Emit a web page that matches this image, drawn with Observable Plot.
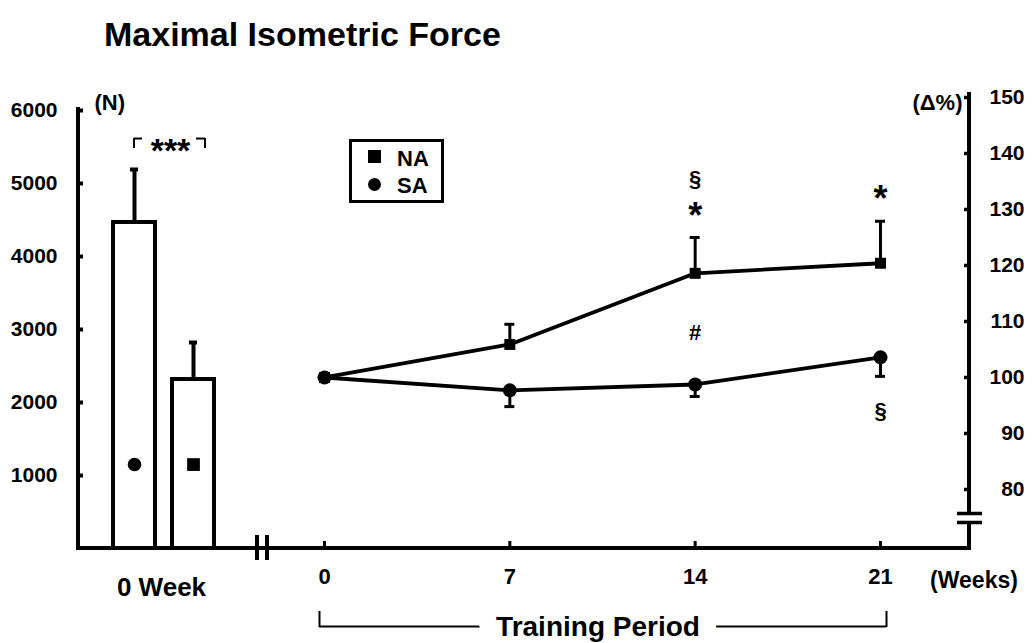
<!DOCTYPE html>
<html>
<head>
<meta charset="utf-8">
<script src="https://cdn.jsdelivr.net/npm/d3@7"></script>
<script src="https://cdn.jsdelivr.net/npm/@observablehq/plot@0.6"></script>
<style>
  html, body { margin: 0; padding: 0; background: #fff; }
  body { font-family: "Liberation Sans", Arial, Helvetica, sans-serif; color: #000; }
  #wrap { position: relative; width: 1032px; height: 643px; overflow: hidden; background: #fff; }
  #wrap svg { position: absolute; left: 0; top: 0; }
  #title { position: absolute; left: 104px; top: 17px; font-size: 34px; line-height: 34px; font-weight: bold; white-space: nowrap; z-index: 3; }
  #legend { position: absolute; left: 349px; top: 139px; width: 95px; height: 64px; box-sizing: border-box; border: 3px solid #000; background: #fff; z-index: 3; }
  .lg-sym { position: absolute; background: #000; }
  .lg-txt { position: absolute; font-size: 22px; line-height: 22px; font-weight: bold; white-space: nowrap; }
</style>
</head>
<body>
<div id="wrap">
  <div id="title">Maximal Isometric Force</div>
  <div id="legend"></div>
</div>
<script>
// ---------------- data ----------------
const barGroups = ["SA", "NA"];          // 0-week bars (left: SA, right: NA)
const barMeans = [4466, 2315];           // N
const barSDs = [726, 507];               // N
const barMarkerLevel = 1150;             // level of the group symbol drawn inside each bar (N)

const weeks = [0, 7, 14, 21];
const naPct = [100, 105.9, 118.6, 120.4];
const naSD  = [0, 3.6, 6.4, 7.5];
const saPct = [100, 97.7, 98.75, 103.6];
const saSD  = [0, 2.9, 2.15, 3.4];

const leftTicks = [1000, 2000, 3000, 4000, 5000, 6000];
const rightTicks = [80, 90, 100, 110, 120, 130, 140, 150];
const weekTicks = [0, 7, 14, 21];

const annoWeeks  = [14, 14, 21, 14, 21];
const annoLabels = ["§", "*", "*", "#", "§"];
const annoPct    = [135.5, 130.4, 133.4, 107.9, 94.1];

const legendLabels = ["NA", "SA"];

// axis extents
const leftMax = 6000;
const pctMin = 69.46, pctMax = 150, pctBreak = 74.8;
const sigTop = 5616, sigLeg = 5479, sigStars = 5562;

// ---------------- helpers ----------------
const font = "'Liberation Sans', Arial, Helvetica, sans-serif";
const baseStyle = {background: "transparent", fontFamily: font, color: "black", overflow: "visible"};
const plain = d => String(d);

function frameMark(draw) {
  return function(...args) {
    const dims = args.find(a => a && typeof a === "object" && "marginLeft" in a && "width" in a);
    const scales = args.find(a => a && typeof a === "object" && typeof a.y === "function");
    const g = d3.create("svg:g").attr("fill", "none").attr("stroke", "black");
    draw(g, dims, scales);
    return g.node();
  };
}

// ---------------- left panel: 0 week bars ----------------
const bars = barGroups.map((g, i) => ({group: g, mean: barMeans[i], sd: barSDs[i]}));

const left = Plot.plot({
  width: 1032, height: 643,
  marginLeft: 78, marginRight: 775, marginTop: 110, marginBottom: 95,
  style: baseStyle,
  x: {type: "band", domain: barGroups, range: [112, 215], paddingInner: 0.283, paddingOuter: 0, axis: null},
  y: {domain: [0, leftMax], axis: null},
  marks: [
    Plot.barY(bars, {x: "group", y: "mean", fill: "white", stroke: "black", strokeWidth: 4}),
    Plot.ruleX(bars, {x: "group", y1: "mean", y2: d => d.mean + d.sd, strokeWidth: 4}),
    Plot.tickY(bars, {x: "group", y: d => d.mean + d.sd, strokeWidth: 4, insetLeft: 17, insetRight: 17}),
    Plot.dot(bars.filter(d => d.group === "SA"), {x: "group", y: () => barMarkerLevel, symbol: "circle", r: 6.8, fill: "black"}),
    Plot.dot(bars.filter(d => d.group === "NA"), {x: "group", y: () => barMarkerLevel, symbol: "square", r: 7.2, fill: "black"}),
    // significance bracket
    Plot.tickY([barGroups[0]], {x: d => d, y: () => sigTop, insetLeft: 21, insetRight: 13, strokeWidth: 2}),
    Plot.tickY([barGroups[1]], {x: d => d, y: () => sigTop, insetLeft: 24, insetRight: 9, strokeWidth: 2}),
    Plot.ruleX([barGroups[0]], {x: d => d, y1: () => sigLeg, y2: () => sigTop, dx: -0.5, strokeWidth: 2}),
    Plot.ruleX([barGroups[1]], {x: d => d, y1: () => sigLeg, y2: () => sigTop, dx: 11.5, strokeWidth: 2}),
    Plot.text(["***"], {x: () => barGroups[0], y: () => sigStars, dx: 36, dy: 9, fontSize: 34, fontWeight: "bold", lineAnchor: "middle"}),
    Plot.axisY({ticks: leftTicks, tickFormat: plain, tickSize: -5, tickPadding: 26, strokeWidth: 4, fontSize: 21, fontWeight: "bold", label: null}),
    Plot.text(["(N)"], {frameAnchor: "top-left", textAnchor: "start", lineAnchor: "middle", dx: 16, dy: -8, fontSize: 22, fontWeight: "bold"}),
    Plot.text(["0 Week"], {frameAnchor: "bottom", textAnchor: "middle", lineAnchor: "middle", dx: -6.5, dy: 39.5, fontSize: 26, fontWeight: "bold"}),
    frameMark((g, d) => {
      const x0 = d.marginLeft, yb = d.height - d.marginBottom, xr = d.width - d.marginRight;
      g.append("path").attr("d", `M${x0},${d.marginTop - 3}V${yb}H${xr}`).attr("stroke-width", 4);
      g.append("path").attr("d", `M${xr},${yb - 13}V${yb + 12}`).attr("stroke-width", 4);
    })
  ]
});

// ---------------- right panel: training period lines ----------------
const na = weeks.map((w, i) => ({week: w, pct: naPct[i], sd: naSD[i]}));
const sa = weeks.map((w, i) => ({week: w, pct: saPct[i], sd: saSD[i]}));
const naErr = na.filter(d => d.sd > 0);
const saErr = sa.filter(d => d.sd > 0);
const annos = annoLabels.map((t, i) => ({week: annoWeeks[i], pct: annoPct[i], label: t}));
const stars = annos.filter(d => d.label === "*");
const others = annos.filter(d => d.label !== "*");

const right = Plot.plot({
  width: 1032, height: 643,
  marginLeft: 267, marginRight: 63, marginTop: 97, marginBottom: 95,
  style: baseStyle,
  x: {domain: [weeks[0], weeks[weeks.length - 1]], range: [324, 880], axis: null},
  y: {domain: [pctMin, pctMax], axis: null},
  marks: [
    frameMark((g, d, s) => {
      const x0 = d.marginLeft, yb = d.height - d.marginBottom, xr = d.width - d.marginRight;
      const yBr = s.y(pctBreak);
      g.append("path").attr("d", `M${x0},${yb - 13}V${yb + 12}`).attr("stroke-width", 4);
      g.append("path").attr("d", `M${x0 - 10},${yb}H${xr}V${yBr + 4.5}M${xr},${yBr - 4.5}V${d.marginTop - 5}`).attr("stroke-width", 4);
      g.append("path").attr("d", `M${xr - 12},${yBr - 4.5}H${xr + 13}M${xr - 12},${yBr + 4.5}H${xr + 13}`).attr("stroke-width", 3.5);
    }),
    Plot.ruleX(naErr, {x: "week", y1: "pct", y2: d => d.pct + d.sd, strokeWidth: 3}),
    Plot.ruleY(naErr, {x1: "week", x2: "week", y: d => d.pct + d.sd, insetLeft: -5, insetRight: -5, strokeWidth: 3}),
    Plot.ruleX(saErr, {x: "week", y1: "pct", y2: d => d.pct - d.sd, strokeWidth: 3}),
    Plot.ruleY(saErr, {x1: "week", x2: "week", y: d => d.pct - d.sd, insetLeft: -5, insetRight: -5, strokeWidth: 3}),
    Plot.line(na, {x: "week", y: "pct", stroke: "black", strokeWidth: 3.8}),
    Plot.line(sa, {x: "week", y: "pct", stroke: "black", strokeWidth: 3.8}),
    Plot.dot(na, {x: "week", y: "pct", symbol: "square", r: 6.2, fill: "black"}),
    Plot.dot(sa, {x: "week", y: "pct", symbol: "circle", r: 7, fill: "black"}),
    Plot.text(stars, {x: "week", y: "pct", text: "label", dy: 9, fontSize: 36, fontWeight: "bold", lineAnchor: "middle"}),
    Plot.text(others, {x: "week", y: "pct", text: "label", fontSize: 22, fontWeight: "bold", lineAnchor: "middle"}),
    Plot.axisX({ticks: weekTicks, tickFormat: plain, tickSize: -7, tickPadding: 27, strokeWidth: 3, fontSize: 22, fontWeight: "bold", label: null}),
    Plot.axisY({anchor: "right", ticks: rightTicks, tickFormat: plain, tickSize: -6, tickPadding: 61, textAnchor: "end", strokeWidth: 3.5, fontSize: 21, fontWeight: "bold", label: null}),
    Plot.text(["(Δ%)"], {frameAnchor: "top-right", textAnchor: "end", lineAnchor: "middle", dx: -7, dy: 5, fontSize: 22, fontWeight: "bold"}),
    Plot.text(["(Weeks)"], {frameAnchor: "bottom-right", textAnchor: "middle", lineAnchor: "middle", dx: 4.5, dy: 32, fontSize: 23, fontWeight: "bold"}),
    // training period bracket
    Plot.ruleY([pctMin], {x1: () => weeks[0], x2: () => weeks[weeks.length - 1], insetLeft: -5, insetRight: -6, dy: 78, strokeWidth: 2}),
    Plot.ruleX([weeks[0]], {x: d => d, y1: () => pctMin, y2: () => pctMin, insetTop: -15, insetBottom: -1, dx: -5, dy: 78, strokeWidth: 2}),
    Plot.ruleX([weeks[weeks.length - 1]], {x: d => d, y1: () => pctMin, y2: () => pctMin, insetTop: -15, insetBottom: -1, dx: 6, dy: 78, strokeWidth: 2}),
    Plot.text(["Training Period"], {x: () => (weeks[0] + weeks[weeks.length - 1]) / 2, y: () => pctMin, dx: -4.5, dy: 79, lineAnchor: "middle", fontSize: 28, fontWeight: "bold", stroke: "white", strokeWidth: 36, paintOrder: "stroke", fill: "black"})
  ]
});

const wrap = document.getElementById("wrap");
wrap.appendChild(left);
wrap.appendChild(right);

// ---------------- legend ----------------
const legend = document.getElementById("legend");
legendLabels.forEach((lab, i) => {
  const sym = document.createElement("div");
  sym.className = "lg-sym";
  sym.style.left = "16px";
  sym.style.width = "13px";
  sym.style.height = "13px";
  sym.style.top = (i === 0 ? 8 : 36) + "px";
  if (lab === "SA") sym.style.borderRadius = "50%";
  legend.appendChild(sym);
  const t = document.createElement("div");
  t.className = "lg-txt";
  t.textContent = lab;
  t.style.left = "45px";
  t.style.top = (i === 0 ? 6 : 33) + "px";
  legend.appendChild(t);
});
</script>
</body>
</html>
